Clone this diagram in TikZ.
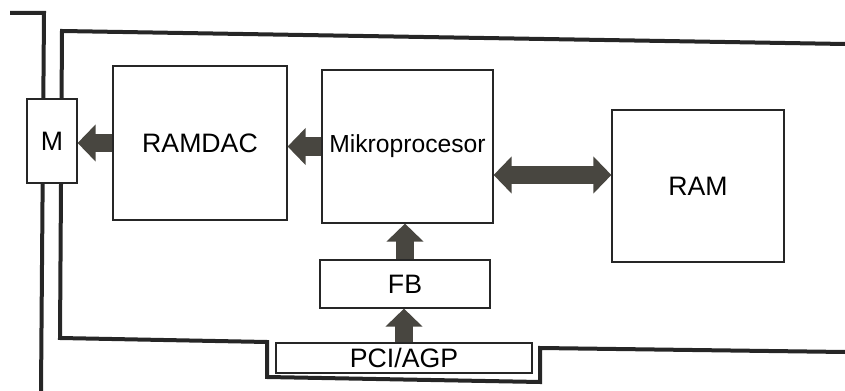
\documentclass[tikz,border=0pt]{standalone}
\usepackage{fontspec}
\setmainfont{Liberation Sans}
\usetikzlibrary{arrows.meta}
\definecolor{busgray}{RGB}{72,70,64}
\begin{document}
\begin{tikzpicture}[x=0.75pt,y=0.75pt,yscale=-1,xscale=1,
	frame/.style={line width=3pt,color=black!85},
	unit/.style={draw=black!85,line width=0.9pt,fill=white,inner sep=0pt,font=\fontsize{20}{24}\selectfont},
	bus/.style={line width=14pt,color=busgray,-{Triangle[length=13.5pt,width=27pt]}},
	dbus/.style={bus,{Triangle[length=13.5pt,width=27pt]}-{Triangle[length=13.5pt,width=27pt]}}]
	\useasboundingbox (0,0) rectangle (845,391);
	
	%Straight Lines: slot bracket
	\draw[frame] (10,13) -- (44,13) -- (41,391) ;
	%Straight Lines: card outline
	\draw[frame] (845,44) -- (62,31) -- (60,338) -- (267,342) -- (267,377) -- (540,382) -- (540,348) -- (845,352) ;
	
	% Blocks
	\node[unit,minimum width=37.5pt,minimum height=63pt] (M) at (52,141) {M};
	\node[unit,minimum width=130.5pt,minimum height=115.5pt] (RAMDAC) at (200,143) {RAMDAC};
	\node[unit,minimum width=128.25pt,minimum height=114.75pt,font=\fontsize{18.5}{22}\selectfont] (CPU) at (407.5,146.5) {Mikroprocesor};
	\node[unit,minimum width=129pt,minimum height=114pt] (RAM) at (698,186) {RAM};
	\node[unit,minimum width=127.5pt,minimum height=36pt] (FB) at (405,284) {FB};
	\node[unit,minimum width=192pt,minimum height=22.5pt] (PCI) at (404,358) {PCI/AGP};
	
	% Buses
	\draw[bus] (RAMDAC.west) -- (RAMDAC.west -| M.east) ;
	\draw[bus] (CPU.west) -- (CPU.west -| RAMDAC.east) ;
	\coordinate (link) at (CPU.east |- 0,175) ;
	\draw[dbus] (link) -- (link -| RAM.west) ;
	\draw[bus] (FB.north) -- (FB.north |- CPU.south) ;
	\draw[bus] (PCI.north) -- (PCI.north |- FB.south) ;
\end{tikzpicture}
\end{document}
